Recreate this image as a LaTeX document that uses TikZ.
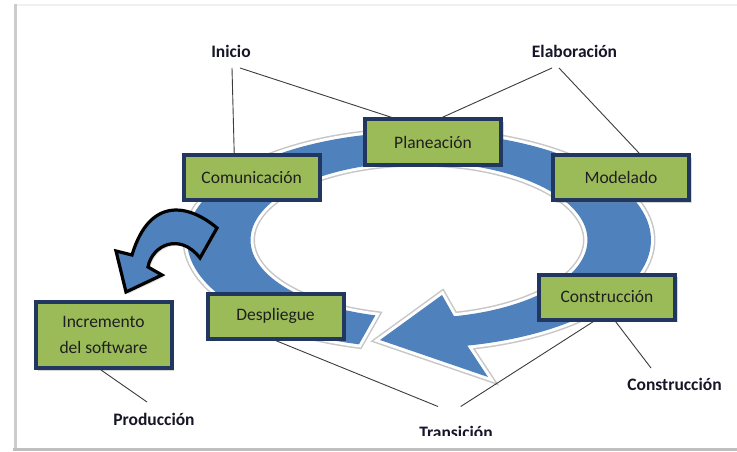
\documentclass[tikz,border=0pt]{standalone}
\usepackage{fontspec}
\setmainfont{Carlito}
\usetikzlibrary{shadows}

\definecolor{ringblue}{RGB}{79,129,189}
\definecolor{boxgreen}{RGB}{155,187,89}
\definecolor{boxnavy}{RGB}{33,55,95}
\definecolor{leadergray}{RGB}{60,60,60}
\definecolor{labelink}{RGB}{22,22,40}

\begin{document}
\begin{tikzpicture}[x=1pt,y=-1pt,
  phase/.style={draw=boxnavy, line width=4pt, fill=boxgreen,
    minimum width=136pt, minimum height=45pt, inner sep=2pt,
    font=\fontsize{17.5}{26}\selectfont, text=black!88, align=center,
    drop shadow={shadow xshift=2.5pt, shadow yshift=-2.5pt, opacity=0.3}},
  tag/.style={font=\fontsize{17.5}{21}\selectfont\bfseries, text=labelink,
    inner sep=0pt, anchor=base},
  leader/.style={draw=leadergray, line width=0.9pt},
]

% page and its frame
\useasboundingbox (0,0) rectangle (737,452);
\fill[white] (0,0) rectangle (737,452);
\draw[gray!12, line width=2pt] (15,5) -- (737,5);
\draw[gray!40, line width=3pt] (15,4) -- (15,451);
\draw[gray!50, line width=3.5pt] (13,449.5) -- (737,449.5);

% the cycle: elliptical band ending in an arrowhead
\path[fill=ringblue,
      preaction={draw=black!22, line width=9pt},
      preaction={draw=white, line width=6pt}]
  plot[domain=105:438, samples=140, variable=\t]
    ({419+232*cos(\t)},{240+108*sin(\t)})
  -- (488,377) -- (380,340) -- (442,295)
  -- plot[domain=438:105, samples=140, variable=\t]
    ({419+168.5*cos(\t)},{240+78*sin(\t)})
  -- cycle;

% curved arrow leaving the cycle
\draw[fill=ringblue, draw=black, line width=3.2pt,
      drop shadow={shadow xshift=2pt, shadow yshift=-2pt, opacity=0.25}]
  (217,228) .. controls (190,205) and (150,195) .. (132,255)
  -- (116,251) -- (126,292) -- (162,275) -- (148,267)
  .. controls (152,245) and (180,232) .. (200,258) -- cycle;

% phases
\node[phase] (plan) at (433,142)   {Planeación};
\node[phase] (com)  at (251.7,177.3) {Comunicación};
\node[phase] (mod)  at (621,177.5) {Modelado};
\node[phase] (cons) at (607,297)   {Construcción};
\node[phase] (desp) at (275.5,316) {Despliegue};
\node[phase, minimum height=66pt] (inc) at (103.5,335) {Incremento\\del software};

% stage labels
\node[tag] (ini) at (231,57.5)   {Inicio};
\node[tag] (ela) at (574.5,57.5) {Elaboración};
\node[tag] (con) at (674.5,390.5) {Construcción};
\node[tag] (pro) at (154,425)    {Producción};
\begin{scope}
  \clip (380,400) rectangle (540,435);
  \node[tag] (tra) at (456,438.5) {Transición};
\end{scope}

% leaders from labels to phases
\draw[leader] ([xshift=1pt,yshift=-10.5pt]ini.base) -- ([xshift=-17.5pt]com.north);
\draw[leader] ([xshift=9pt,yshift=-10.5pt]ini.base) -- ([xshift=-41pt]plan.north);
\draw[leader] ([xshift=-22.5pt,yshift=-10.5pt]ela.base) -- ([xshift=9pt]plan.north);
\draw[leader] ([xshift=-15.5pt,yshift=-10.5pt]ela.base) -- ([xshift=18pt]mod.north);
\draw[leader] ([xshift=8.5pt]cons.south) -- ([xshift=-23.5pt,yshift=22.5pt]con.base);
\draw[leader] ([xshift=-13.5pt]cons.south) -- ([xshift=4.7pt,yshift=32pt]tra.base);
\draw[leader] (desp.south) -- ([xshift=-18pt,yshift=32pt]tra.base);
\draw[leader] ([xshift=-2.5pt]inc.south) -- ([xshift=-7pt,yshift=23pt]pro.base);

\end{tikzpicture}
\end{document}
